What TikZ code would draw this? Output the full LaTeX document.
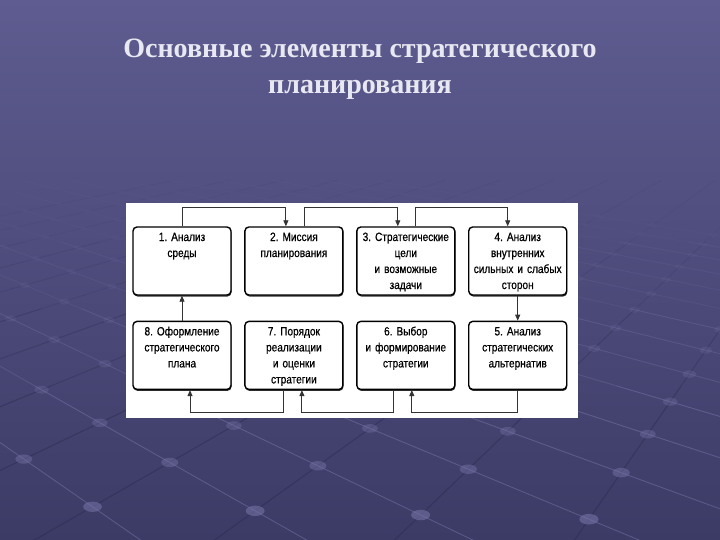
\documentclass[tikz,border=0pt]{standalone}
\usepackage{fontspec}
\setmainfont{Liberation Serif}
\newfontfamily\boxfont[FakeStretch=0.84, FakeBold=0.6, WordSpace=0.8]{Liberation Sans}
\usetikzlibrary{arrows.meta, positioning, shadows}

\definecolor{slidetop}{RGB}{94,92,144}
\definecolor{slidebot}{RGB}{60,59,102}
\definecolor{groove}{RGB}{38,38,74}
\definecolor{ridge}{RGB}{132,130,182}
\definecolor{knob}{RGB}{118,116,166}
\definecolor{titlewhite}{RGB}{232,232,242}

\begin{document}
\begin{tikzpicture}[
    x=1pt, y=-1pt,
    box/.style={draw, line width=1.4pt, rounded corners=4pt, fill=white,
        minimum width=98pt, text width=94pt, align=center,
        inner xsep=2pt, inner ysep=4pt, text height=10pt, text depth=50pt,
        font=\boxfont\fontsize{12}{16}\selectfont\frenchspacing,
        drop shadow={shadow xshift=0.5pt, shadow yshift=-1.5pt, opacity=0.8, fill=black}},
    link/.style={-{Triangle[length=6pt, width=5pt]}, line width=0.9pt, draw=black!80},
    gridA/.style={groove, line width=1.1pt},
    gridB/.style={ridge, line width=0.9pt}
]
\useasboundingbox (0,0) rectangle (720,540);

% slide background with the perspective grid
\begin{scope}
  \clip (0,0) rectangle (720,540);
  \fill[top color=slidetop, bottom color=slidebot] (0,0) rectangle (720,540);
  \foreach \a/\b/\o in {0.3/0.42/0.05, 0.42/0.55/0.13, 0.55/0.7/0.26, 0.7/1.02/0.4} {
    \foreach \i in {-8,...,5} {
      \pgfmathsetmacro{\xa}{-145.4+180*\i}
      \draw[gridA, opacity=\o] ({930+(\xa-930)*\a},{26+514*\a}) -- ({930+(\xa-930)*\b},{26+514*\b});
    }
    \foreach \j in {-14,...,3} {
      \pgfmathsetmacro{\xb}{306.6-166.2*\j}
      \draw[gridB, opacity=\o] ({-600+(\xb+600)*\a},{26+514*\a}) -- ({-600+(\xb+600)*\b},{26+514*\b});
    }
  }
  \foreach \i in {-8,...,5} {
    \foreach \j in {-14,...,3} {
      \pgfmathsetmacro{\den}{306.6-166.2*\j+145.4-180*\i+1530}
      \pgfmathtruncatemacro{\ok}{(\den>1457)&&(\den<5100)}
      \ifnum\ok=1
        \pgfmathsetmacro{\s}{1530/\den}
        \pgfmathsetmacro{\dx}{930+(-145.4+180*\i-930)*\s}
        \pgfmathsetmacro{\dy}{26+514*\s}
        \pgfmathsetmacro{\rx}{10*\s}
        \pgfmathsetmacro{\ry}{5.5*\s}
        \pgfmathsetmacro{\op}{0.04+0.6*((\s-0.3)/0.7)^1.5}
        \fill[knob, opacity=\op] (\dx,\dy) ellipse [x radius=\rx pt, y radius=\ry pt];
      \fi
    }
  }
\end{scope}

% title
\node[font=\bfseries\fontsize{28}{36}\selectfont, text=titlewhite, align=center] (title) at (360,69)
  {Основные элементы стратегического\\планирования};

% white panel
\fill[white] (126,203) rectangle (578,418);

% boxes
\node[box] (anal) at (182,261) {1. Анализ\\среды};
\node[box, right=12.5pt of anal] (miss) {2. Миссия\\планирования};
\node[box, right=12.5pt of miss] (goals) {3. Стратегические\\цели\\и возможные\\задачи};
\node[box, right=12.5pt of goals] (swot) {4. Анализ\\внутренних\\сильных и слабых\\сторон};
\node[box, below=25pt of swot] (alts) {5. Анализ\\стратегических\\альтернатив};
\node[box, below=25pt of goals] (choice) {6. Выбор\\и формирование\\стратегии};
\node[box, below=25pt of miss] (order) {7. Порядок\\реализации\\и оценки\\стратегии};
\node[box, below=25pt of anal] (plan) {8. Оформление\\стратегического\\плана};

% arrows
\draw[link] (anal.north) -- ++(0,-19) -| ([xshift=-8pt]miss.north);
\draw[link] ([xshift=11pt]miss.north) -- ++(0,-19) -| ([xshift=-8pt]goals.north);
\draw[link] ([xshift=10pt]goals.north) -- ++(0,-19) -| ([xshift=-10pt]swot.north);
\draw[link] (swot) -- (alts);
\draw[link] (alts.south) -- ++(0,22) -| ([xshift=6pt]choice.south);
\draw[link] ([xshift=-12pt]choice.south) -- ++(0,22) -| ([xshift=8pt]order.south);
\draw[link] ([xshift=-10pt]order.south) -- ++(0,22) -| ([xshift=8pt]plan.south);
\draw[link] (plan) -- (anal);

\end{tikzpicture}
\end{document}
